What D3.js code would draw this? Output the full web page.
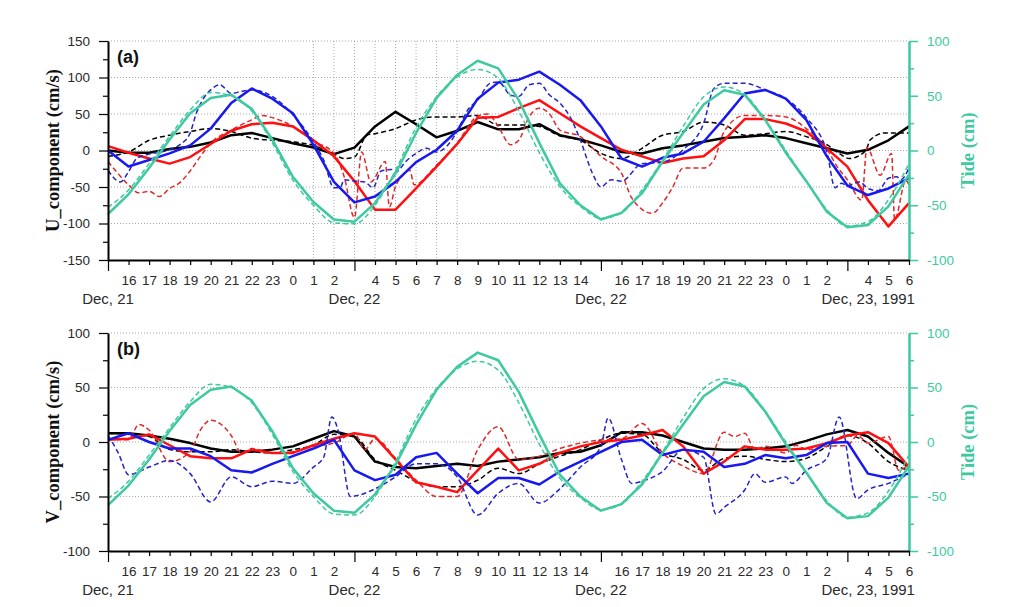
<!DOCTYPE html>
<html><head><meta charset="utf-8">
<script src="https://cdn.jsdelivr.net/npm/d3@7"></script>
<style>
body{margin:0;background:#fff;}
svg{display:block;}
.tick text{font-family:"Liberation Sans",Arial,sans-serif;}
</style></head>
<body><svg id="c" width="1012" height="607"></svg>
<script>
// ---------- DATA (hour index 0 = 15:00 Dec 21 ... 39 = 06:00 Dec 23) ----------
const hours = d3.range(40).map(i => (15 + i) % 24);
const dateLabels = [[0, "Dec, 21"], [12, "Dec, 22"], [24, "Dec, 22"], [36, "Dec, 23"]];
const yearLabel = ", 1991";

// Tide (cm) – same in both panels
const tideObs = [-58,-40,-16,10,34,48,51,38,10,-24,-47,-63,-65,-48,-21,16,48,69,82,75,46,7,-30,-50,-63,-57,-39,-10,16,42,55,51,28,-2,-28,-56,-70,-68,-51,-22];
const tidePred = [-52,-36,-12,13,37,53,50,36,7,-27,-50,-66,-67,-50,-18,21,49,67,74,66,36,-2,-33,-51,-62,-57,-36,-9,22,49,58,51,28,0,-28,-54,-69,-65,-45,-12];

// (a) U component (cm/s)
const uBlack = [0,-3,-3,2,5,11,21,24,17,10,4,-5,4,33,53,36,18,27,39,29,29,36,21,15,7,-2,-4,3,7,12,17,19,21,17,10,3,-4,1,14,33];
const uBlackDash = [[0,-8],[1,-2],[2,14],[3,21],[4,26],[5,30],[6,26],[7,17],[8,14],[9,12],[10,7],[11,-5],[11.5,-11],[12,-9],[12.6,21],[13,23],[14,30],[15,42],[16,46],[17,46],[18,48],[19,35],[20,35],[21,33],[22,20],[23,14],[24,-4],[25,-11],[26,3],[27,21],[28,26],[29,39],[30,35],[31,21],[32,23],[33,26],[34,19],[35,8],[35.6,-4],[36.1,-11],[36.9,0],[37.1,14],[37.8,24],[39,24]];
const uRed = [6,-3,-11,-18,-9,9,27,36,38,33,14,-8,-42,-81,-81,-52,-22,9,45,46,58,69,51,33,17,1,-8,-17,-11,-8,14,43,43,37,26,3,-22,-68,-104,-72];
const uRedDash = [[0,-15],[0.5,-32],[1,-47],[1.5,-58],[2,-56],[2.5,-63],[3,-52],[3.5,-44],[4,-28],[4.5,-8],[5,10],[6,28],[7,42],[7.5,48],[8,45],[9,33],[10,13],[11,-4],[11.5,-36],[12,-92],[12.35,-2],[12.8,-43],[13.5,-15],[13.7,-77],[14,-49],[14.3,-36],[14.7,-27],[14.9,-47],[16,-20],[17,10],[18,47],[18.5,50],[19,33],[19.6,8],[20,14],[20.5,46],[21,58],[21.5,50],[22,28],[23,19],[24,-8],[25,-31],[25.5,-65],[26.5,-86],[27,-72],[27.5,-50],[28,-24],[29,-24],[29.5,-13],[30,26],[31,48],[32,48],[33,46],[34,30],[35,2],[35.5,-22],[36,-40],[36.7,-68],[36.95,4],[37.6,-34],[38.15,-4],[38.3,-95],[38.85,-41],[39,-47]];
const uBlue = [0,-22,-13,-4,7,30,65,85,71,51,8,-43,-71,-63,-43,-16,1,27,71,93,97,108,90,69,33,-11,-22,-10,-4,12,44,78,83,71,42,-8,-48,-61,-52,-38];
const uBlueDash = [[0,-27],[0.6,-43],[1,-29],[1.4,-11],[2,-5],[3,1],[3.5,8],[4,24],[4.3,51],[4.6,69],[5,83],[5.45,90],[6,78],[6.5,81],[7,83],[8,74],[9,49],[10,12],[10.5,-13],[11,-51],[11.3,-51],[11.5,-40],[12,-42],[12.5,-43],[12.9,-51],[13.3,-28],[13.8,-26],[14,-30],[14.5,-15],[15,-4],[15.5,3],[16,-2],[17,26],[17.5,55],[18,69],[18.6,92],[19,94],[19.6,76],[20,74],[20.5,90],[21,92],[21.5,76],[22,65],[22.5,46],[23,14],[23.6,-32],[24,-50],[24.5,-40],[25,-42],[26,-18],[27,-16],[28,1],[29,37],[29.5,85],[30,92],[31,92],[32,83],[33,71],[34,45],[35,-2],[35.4,-51],[35.7,-45],[36,-48],[36.6,-43],[37,-52],[37.5,-55],[38,-38],[38.4,-36],[38.6,-40],[39,-24]];

// (b) V component (cm/s)
const vBlack = [8,8,6,3,-1,-6,-9,-9,-7,-4,3,10,5,-18,-23,-24,-22,-20,-22,-18,-16,-14,-10,-9,-3,9,9,6,0,-6,-7,-7,-6,-4,1,7,11,5,-10,-23];
const vBlackDash = [[0,8],[1,7],[2,5],[3,-7],[4,-9],[5,-9],[6,-7],[7,-9],[8,-10],[9,-7],[10,-3],[11,7],[12,5],[13,-16],[14,-26],[15,-36],[16,-41],[17,-41],[18,-35],[19,-24],[20,-29],[21,-20],[22,-13],[23,-7],[24,2],[25,8],[26,7],[27,-10],[28,-16],[29,-26],[30,-15],[31,-13],[32,-16],[33,-18],[34,-15],[35,-4],[36,6],[37,-1],[38,-18],[39,-26]];
const vRed = [2,3,7,-3,-13,-15,-15,-7,-10,-10,-3,3,8,5,-16,-37,-41,-46,-26,-6,-26,-20,-10,-4,0,2,6,11,-4,-29,-18,-4,-7,-7,-6,-1,6,9,-1,-23];
const vRedDash = [[0,3],[1,2],[1.5,16],[2,11],[3,-18],[4,-9],[4.5,11],[5,20],[6,6],[6.5,-10],[7,-6],[8,-10],[9,-9],[10,-4],[11,-1],[12,8],[12.5,-7],[13,3],[14,-15],[15,-35],[16,-50],[17,-50],[18,-7],[19,14],[20,-16],[21,-13],[22,-6],[23,-1],[24,2],[25,3],[26,17],[27,-10],[28,-22],[29,-29],[30,9],[30.5,5],[31,8],[31.5,-7],[32,-4],[33,-10],[33.5,-3],[34,-7],[35,-4],[36,-3],[36.5,6],[37,-1],[38,5],[38.5,-26],[39,-20]];
const vBlue = [2,8,0,-6,-6,-13,-26,-28,-20,-13,-6,2,-26,-35,-30,-14,-10,-29,-47,-33,-33,-39,-27,-18,-9,0,2,-12,-7,-9,-23,-20,-12,-15,-12,-1,0,-29,-33,-29];
const vBlueDash = [[0,6],[0.5,-10],[1,-30],[2,-23],[3,-17],[4,-29],[5,-55],[6,-32],[7,-41],[8,-36],[9,-38],[10,-23],[10.5,-14],[10.9,23],[11.2,11],[11.8,-50],[13,-43],[14,-32],[15,-20],[16,-20],[17,-32],[18,-67],[19,-47],[20,-38],[21,-56],[22,-43],[23,-23],[24,-4],[24.35,22],[25,-16],[25.5,-38],[26,-36],[27,-27],[28,-7],[29,-14],[29.6,-66],[30,-60],[31,-44],[31.5,-29],[32,-37],[33,-32],[33.3,-38],[34,-26],[35,-15],[35.6,23],[36.45,-52],[37,-44],[38,-38],[39,-29]];

// ---------- DRAWING ----------
const svg = d3.select("#c");
const TEAL = "#3ec9a0";
const TXT = "#2a2a2a";
const SANS = "'Liberation Sans', Arial, sans-serif";
const SERIF = "'Liberation Serif', 'Times New Roman', serif";
const x = d3.scaleLinear().domain([0, 39]).range([108, 909]);

function panel(cfg) {
  const g = svg.append("g");
  const y = d3.scaleLinear().domain(cfg.ydom).range([cfg.bot, cfg.top]);
  const yt = d3.scaleLinear().domain([-100, 100]).range([cfg.bot, cfg.top]);

  // horizontal grid
  g.selectAll(".hg").data(cfg.grid).join("line")
    .attr("x1", x(0)).attr("x2", x(39)).attr("y1", d => y(d)).attr("y2", d => y(d))
    .attr("stroke", "#a8a8a8").attr("stroke-width", 1).attr("stroke-dasharray", "1,2");
  // vertical grid
  g.selectAll(".vg").data(cfg.vgrid).join("line")
    .attr("x1", d => x(d)).attr("x2", d => x(d)).attr("y1", cfg.top).attr("y2", cfg.bot)
    .attr("stroke", "#a8a8a8").attr("stroke-width", 1).attr("stroke-dasharray", "1,2");

  const solid = d3.line().x((d, i) => x(i)).y(d => y(d));
  const dash = d3.line().x(d => x(d[0])).y(d => y(d[1])).curve(d3.curveMonotoneX);
  const tideSolid = d3.line().x((d, i) => x(i)).y(d => yt(d));
  const tideDash = d3.line().x((d, i) => x(i)).y(d => yt(d)).curve(d3.curveMonotoneX);

  const series = [
    [dash(cfg.blackDash), "#000", 1.5, "5,3"],
    [solid(cfg.black), "#000", 2.5, null],
    [dash(cfg.redDash), "#e02828", 1.5, "5,3"],
    [solid(cfg.red), "#ff1010", 2.5, null],
    [dash(cfg.blueDash), "#2424c8", 1.5, "5,3"],
    [solid(cfg.blue), "#1818f0", 2.5, null],
    [tideDash(tidePred), TEAL, 1.5, "5,3"],
    [tideSolid(tideObs), TEAL, 2.5, null]
  ];
  g.selectAll(".s").data(series).join("path")
    .attr("d", d => d[0]).attr("fill", "none")
    .attr("stroke", d => d[1]).attr("stroke-width", d => d[2])
    .attr("stroke-dasharray", d => d[3]).attr("stroke-linejoin", "round");

  // left axis
  const ticksL = d3.range(cfg.ydom[0], cfg.ydom[1] + 1, 25);
  const la = g.append("g").attr("transform", `translate(${x(0)},0)`)
    .call(d3.axisLeft(y).tickValues(ticksL).tickSize(9).tickSizeOuter(0).tickPadding(9)
      .tickFormat(d => d % 50 === 0 ? d : ""));
  la.select(".domain").attr("stroke", "#000").attr("stroke-width", 2);
  la.selectAll(".tick line").attr("stroke", "#000").attr("stroke-width", 1.2)
    .attr("x2", d => d % 50 === 0 ? -9 : -5);
  la.selectAll(".tick text").attr("font-size", 13.5).attr("fill", TXT).attr("font-family", SANS);

  // right axis
  const ra = g.append("g").attr("transform", `translate(${x(39)},0)`)
    .call(d3.axisRight(yt).tickValues(d3.range(-100, 101, 25)).tickSize(9).tickSizeOuter(0).tickPadding(9)
      .tickFormat(d => d % 50 === 0 ? d : ""));
  ra.select(".domain").attr("stroke", TEAL).attr("stroke-width", 2.5);
  ra.selectAll(".tick line").attr("stroke", TEAL).attr("stroke-width", 1.5)
    .attr("x2", d => d % 50 === 0 ? 9 : 5);
  ra.selectAll(".tick text").attr("font-size", 13.5).attr("fill", TEAL).attr("font-family", SANS);

  // bottom axis
  const ba = g.append("g").attr("transform", `translate(0,${cfg.bot})`)
    .call(d3.axisBottom(x).tickValues(d3.range(40)).tickSize(5).tickSizeOuter(0).tickPadding(10)
      .tickFormat(i => i % 12 === 0 ? "" : hours[i]));
  ba.select(".domain").attr("stroke", "#000").attr("stroke-width", 2);
  ba.selectAll(".tick line").attr("stroke", "#000").attr("stroke-width", 1.2)
    .attr("y2", i => i % 12 === 0 ? 11 : 5);
  ba.selectAll(".tick text").attr("font-size", 13.5).attr("fill", TXT).attr("font-family", SANS);

  // date labels
  dateLabels.forEach(([i, t], k) => {
    const tx = g.append("text").attr("x", x(i)).attr("y", cfg.bot + 44)
      .attr("text-anchor", "middle").attr("font-family", SANS).attr("font-size", 15).attr("fill", TXT).text(t);
    if (k === dateLabels.length - 1) {
      const w = tx.node().getComputedTextLength();
      g.append("text").attr("x", x(i) + w / 2).attr("y", cfg.bot + 44)
        .attr("font-family", SANS).attr("font-size", 15).attr("fill", TXT).text(yearLabel);
    }
  });

  // titles
  const cy = (cfg.top + cfg.bot) / 2;
  g.append("text").attr("transform", `translate(59,${cy}) rotate(-90)`)
    .attr("text-anchor", "middle").attr("font-family", SERIF).attr("font-weight", "bold")
    .attr("font-size", 18.5).attr("fill", "#111").text(cfg.title);
  g.append("text").attr("transform", `translate(974,${cy}) rotate(-90)`)
    .attr("text-anchor", "middle").attr("font-family", SERIF).attr("font-weight", "bold")
    .attr("font-size", 18.5).attr("fill", TEAL).text("Tide (cm)");
  g.append("text").attr("x", 117).attr("y", cfg.top + 22)
    .attr("font-family", SANS).attr("font-weight", "bold").attr("font-size", 18).attr("fill", "#111").text(cfg.tag);
}

panel({top: 41, bot: 260, ydom: [-150, 150], grid: [-100, -50, 0, 50, 100, 150], vgrid: d3.range(10, 18),
  title: "U_component (cm/s)", tag: "(a)",
  black: uBlack, blackDash: uBlackDash, red: uRed, redDash: uRedDash, blue: uBlue, blueDash: uBlueDash});
panel({top: 333, bot: 551, ydom: [-100, 100], grid: [-50, 0, 50, 100], vgrid: [],
  title: "V_component (cm/s)", tag: "(b)",
  black: vBlack, blackDash: vBlackDash, red: vRed, redDash: vRedDash, blue: vBlue, blueDash: vBlueDash});
</script></body></html>
